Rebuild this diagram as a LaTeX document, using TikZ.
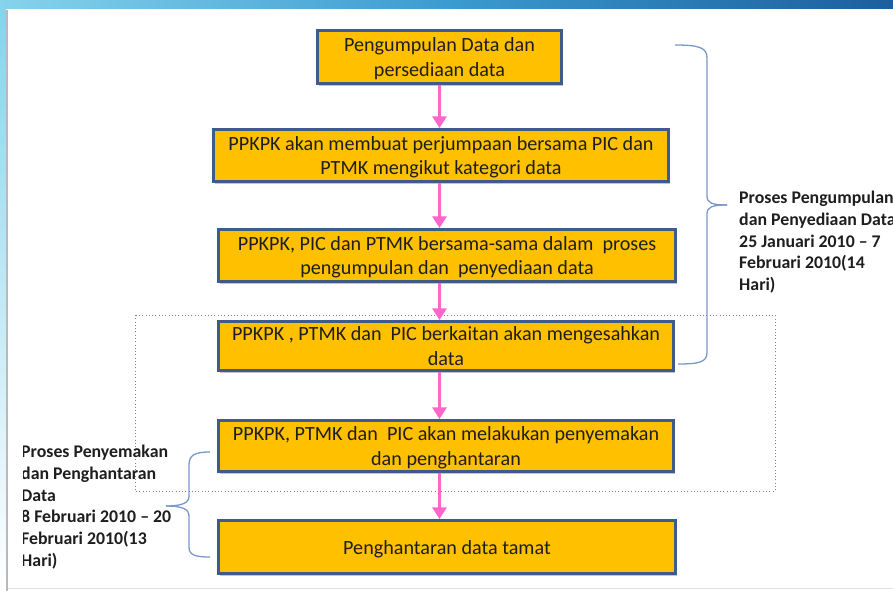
\documentclass[tikz,border=0pt]{standalone}
\usepackage{fontspec}
\setmainfont{Carlito}
\usetikzlibrary{arrows.meta,shadows}

\definecolor{boxfill}{HTML}{FFC000}
\definecolor{boxedge}{HTML}{3E5C8A}
\definecolor{arrowpink}{HTML}{FF66CC}
\definecolor{bracecol}{HTML}{7C97CC}
\definecolor{bandlight}{HTML}{86D3EC}
\definecolor{bandmid}{HTML}{3C9BD0}
\definecolor{banddark}{HTML}{1C5E9E}
\definecolor{txt}{HTML}{1E1E1E}

\begin{document}
\begin{tikzpicture}[x=0.03cm,y=-0.03cm,
	task node/.style = {rectangle,draw=boxedge,fill=boxfill,line width=2.2pt,align=center,inner sep=0pt,
		text=txt,font=\fontsize{17.2}{21.3}\selectfont,text depth=-1.5pt,
		drop shadow={shadow xshift=1.5pt,shadow yshift=-2pt,opacity=0.45}},
	flow/.style = {arrowpink,line width=3.4pt,-{Triangle[width=12pt,length=10pt]}},
	brace line/.style = {bracecol,line width=1.1pt},
	note/.style = {align=left,anchor=north west,inner sep=0pt,text=txt,
		font=\bfseries\fontsize{15.2}{18.5}\selectfont}]
	
	\useasboundingbox (0,0) rectangle (893,591);
	\fill[white] (0,0) rectangle (893,591);
	
	% slide frame
	\shade[left color=bandlight,right color=banddark,middle color=bandmid] (0,0) rectangle (893,9);
	\shade[top color=bandlight,bottom color=white] (0,9) rectangle (6,591);
	\draw[gray!55,line width=1.2pt] (7,10) -- (7,591);
	\draw[gray!25] (8,588) -- (893,588);
	
	% dotted frame
	\draw[gray,dotted,line width=0.8pt] (135,315) rectangle (775,491);
	
	\node[task node,minimum width=7.33cm,minimum height=1.60cm] (collect) at (439.5,57) {Pengumpulan Data dan\\persediaan data};
	\node[task node,minimum width=13.66cm,minimum height=1.57cm] (meet) at (441,155.5) {PPKPK akan membuat perjumpaan bersama PIC dan\\PTMK mengikut kategori data};
	\node[task node,minimum width=13.72cm,minimum height=1.57cm] (gather) at (447,255.5) {PPKPK, PIC dan PTMK bersama-sama dalam~ proses\\pengumpulan dan~ penyediaan data};
	\node[task node,minimum width=13.66cm,minimum height=1.48cm] (verify) at (446,346) {PPKPK , PTMK dan~ PIC berkaitan akan mengesahkan\\data};
	\node[task node,minimum width=13.66cm,minimum height=1.54cm] (review) at (446,446) {PPKPK, PTMK dan~ PIC akan melakukan penyemakan\\dan penghantaran};
	\node[task node,minimum width=13.72cm,minimum height=1.60cm] (done) at (447,547) {Penghantaran data tamat};
	
	\draw[flow] (collect.south) -- (collect.south |- meet.north);
	\draw[flow] (meet.south -| collect.south) -- (gather.north -| collect.south);
	\draw[flow] (gather.south -| collect.south) -- (verify.north -| collect.south);
	\draw[flow] (verify.south -| collect.south) -- (review.north -| collect.south);
	\draw[flow] (review.south -| collect.south) -- (done.north -| collect.south);
	
	% braces
	\draw[brace line] (675,45) .. controls (700,45) and (707,48) .. (707,58) -- (707,196) .. controls (707,203) and (712,205) .. (727,205);
	\draw[brace line] (727,205) .. controls (712,205) and (707,207) .. (707,214) -- (707,352) .. controls (707,362) and (700,364) .. (678,364);
	\draw[brace line] (210,452) .. controls (195,452) and (189,455) .. (189,465) -- (189,496) .. controls (189,503) and (182,506) .. (166,506);
	\draw[brace line] (166,506) .. controls (182,506) and (189,509) .. (189,516) -- (189,547) .. controls (189,555) and (195,557) .. (210,557);
	
	\node[note] (spanA) at (739,191) {Proses Pengumpulan\\dan Penyediaan Data\\25 Januari 2010 -- 7\\Februari 2010(14\\Hari)};
	\begin{scope}
		\clip (23,0) rectangle (893,591);
		\node[note] (spanB) at (21,445) {Proses Penyemakan\\dan Penghantaran\\Data\\8 Februari 2010 -- 20\\Februari 2010(13\\Hari)};
	\end{scope}
	
\end{tikzpicture}
\end{document}
